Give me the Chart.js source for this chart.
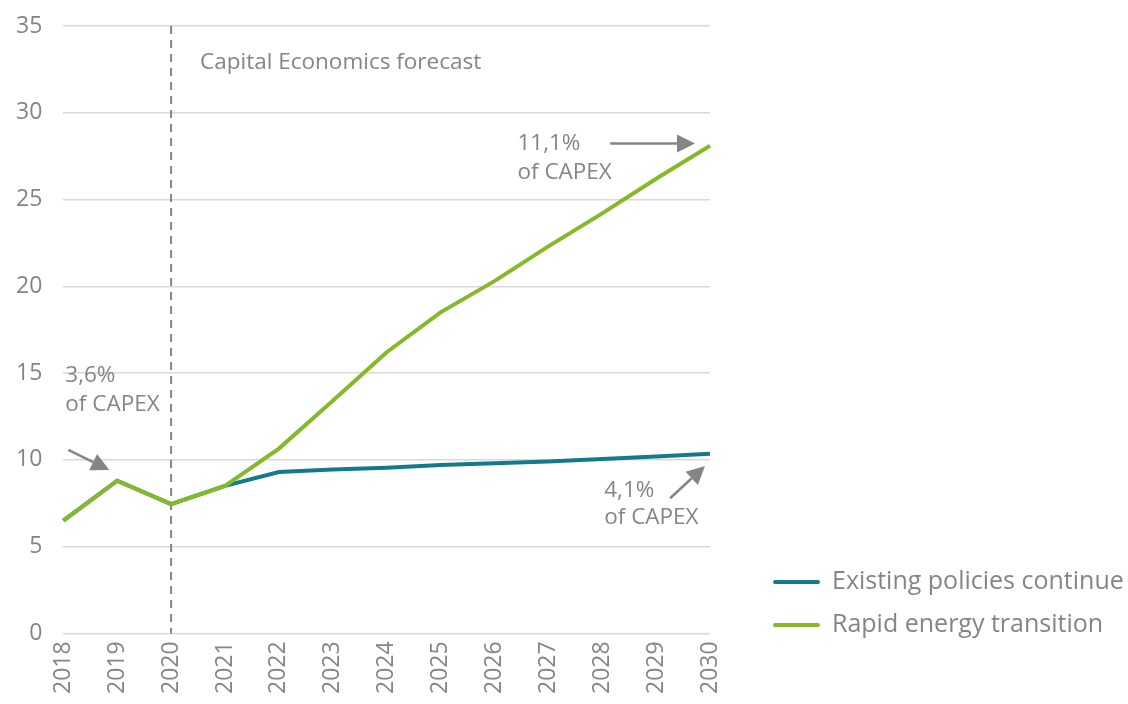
<!DOCTYPE html>
<html>
<head>
<meta charset="utf-8">
<script src="https://cdn.jsdelivr.net/npm/chart.js@4"></script>
<style>
  html, body { margin: 0; padding: 0; background: #fff; }
  #wrap { width: 1128px; height: 704px; position: relative; }
</style>
</head>
<body>
<div id="wrap"><canvas id="chart" width="1128" height="704"></canvas></div>
<script>
const years = ['2018', '2019', '2020', '2021', '2022', '2023', '2024', '2025', '2026', '2027', '2028', '2029', '2030'];
const existingPolicies = [6.5, 8.8, 7.45, 8.5, 9.3, 9.45, 9.55, 9.7, 9.8, 9.9, 10.05, 10.2, 10.35];
const rapidTransition = [6.5, 8.8, 7.45, 8.5, 10.65, 13.4, 16.2, 18.5, 20.3, 22.3, 24.2, 26.2, 28.1];
const seriesNames = ['Existing policies continue', 'Rapid energy transition'];
const seriesColors = ['#137a8c', '#86b929'];
const yTicks = [0, 5, 10, 15, 20, 25, 30, 35];

const grey = '#858585';
const font = '"Open Sans", "Noto Sans", sans-serif';

function arrow(ctx, x1, y1, x2, y2) {
    const ang = Math.atan2(y2 - y1, x2 - x1);
    const head = 18, wing = 9;
    const bx = x2 - head * Math.cos(ang), by = y2 - head * Math.sin(ang);
    ctx.beginPath();
    ctx.moveTo(x1, y1);
    ctx.lineTo(bx, by);
    ctx.stroke();
    ctx.beginPath();
    ctx.moveTo(x2, y2);
    ctx.lineTo(bx + wing * Math.sin(ang), by - wing * Math.cos(ang));
    ctx.lineTo(bx - wing * Math.sin(ang), by + wing * Math.cos(ang));
    ctx.closePath();
    ctx.fill();
}

// dashed forecast line, notes and legend
const extras = {
    id: 'extras',
    beforeDatasetsDraw(chart) {
        const { ctx, chartArea, scales: { x } } = chart;
        const fx = x.getPixelForValue(2);
        ctx.save();
        ctx.strokeStyle = grey;
        ctx.lineWidth = 2;
        ctx.setLineDash([8, 6]);
        ctx.beginPath();
        ctx.moveTo(fx, chartArea.top);
        ctx.lineTo(fx, chartArea.bottom);
        ctx.stroke();
        ctx.restore();
    },
    afterDraw(chart) {
        const { ctx, scales: { x, y } } = chart;
        ctx.save();
        ctx.fillStyle = grey;
        ctx.strokeStyle = grey;
        ctx.lineWidth = 2.5;
        ctx.textBaseline = 'middle';
        ctx.textAlign = 'left';
        ctx.font = '22.5px ' + font;
        ctx.fillText('Capital Economics forecast', x.getPixelForValue(2) + 29, y.getPixelForValue(32.9));

        // 3,6%
        ctx.fillText('3,6%', x.getPixelForValue(0) + 2, y.getPixelForValue(14.84));
        ctx.fillText('of CAPEX', x.getPixelForValue(0) + 2, y.getPixelForValue(13.2));
        arrow(ctx, x.getPixelForValue(0) + 5, y.getPixelForValue(10.57), x.getPixelForValue(0) + 46, y.getPixelForValue(9.41));
        // 11,1%
        ctx.fillText('11,1%', x.getPixelForValue(8) + 23, y.getPixelForValue(28.23));
        ctx.fillText('of CAPEX', x.getPixelForValue(8) + 23, y.getPixelForValue(26.56));
        arrow(ctx, x.getPixelForValue(10) + 8, y.getPixelForValue(28.23), x.getPixelForValue(12) - 15, y.getPixelForValue(28.23));
        // 4,1%
        ctx.fillText('4,1%', x.getPixelForValue(10) + 2, y.getPixelForValue(8.2));
        ctx.fillText('of CAPEX', x.getPixelForValue(10) + 2, y.getPixelForValue(6.7));
        arrow(ctx, x.getPixelForValue(11) + 14, y.getPixelForValue(7.79), x.getPixelForValue(12) - 5, y.getPixelForValue(9.64));

        // legend
        ctx.font = '25px ' + font;
        ctx.lineWidth = 4;
        ctx.lineCap = 'round';
        seriesNames.forEach((name, i) => {
            const ly = 582 + i * 43;
            ctx.strokeStyle = seriesColors[i];
            ctx.beginPath();
            ctx.moveTo(775, ly);
            ctx.lineTo(818, ly);
            ctx.stroke();
            ctx.fillStyle = grey;
            ctx.fillText(name, 832, ly);
        });
        ctx.restore();
    }
};

new Chart(document.getElementById('chart'), {
    type: 'line',
    data: {
        labels: years,
        datasets: [
            { label: seriesNames[0], data: existingPolicies, borderColor: seriesColors[0], borderWidth: 4, pointRadius: 0, tension: 0, order: 1 },
            { label: seriesNames[1], data: rapidTransition, borderColor: seriesColors[1], borderWidth: 4, pointRadius: 0, tension: 0, order: 0 }
        ]
    },
    options: {
        responsive: false,
        animation: false,
        layout: { padding: { left: -5, top: 26, right: 418, bottom: 2 } },
        plugins: { legend: { display: false }, tooltip: { enabled: false } },
        scales: {
            x: {
                offset: false,
                grid: { display: false, drawTicks: false },
                border: { display: false },
                ticks: { color: grey, font: { size: 23, family: font }, minRotation: 90, maxRotation: 90, padding: 8, autoSkip: false }
            },
            y: {
                min: 0,
                max: 35,
                afterBuildTicks: axis => { axis.ticks = yTicks.map(v => ({ value: v })); },
                afterFit: axis => { axis.paddingTop = 0; },
                grid: { color: '#d9d9d9', lineWidth: 1.5, drawTicks: false },
                border: { display: false },
                ticks: { color: grey, font: { size: 23, family: font }, padding: 21 }
            }
        }
    },
    plugins: [extras]
});
</script>
</body>
</html>
